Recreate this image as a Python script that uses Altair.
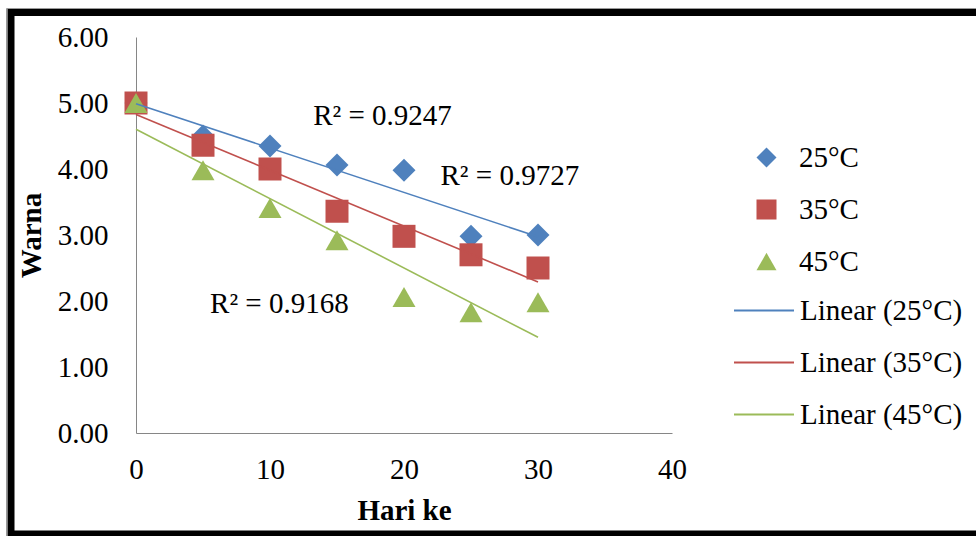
import altair as alt
import pandas as pd

# ---- data ----
days = [0, 5, 10, 15, 20, 25, 30]
series_names = ["25°C", "35°C", "45°C"]
warna_25 = [5.00, 4.50, 4.35, 4.06, 3.98, 2.98, 3.00]
warna_35 = [5.00, 4.36, 4.00, 3.36, 2.98, 2.70, 2.50]
warna_45 = [5.00, 3.98, 3.41, 2.92, 2.06, 1.83, 1.98]
line_names = ["Linear (25°C)", "Linear (35°C)", "Linear (45°C)"]

r2_text = ["R² = 0.9247", "R² = 0.9727", "R² = 0.9168"]
r2_day = [18.4, 27.9, 10.7]
r2_warna = [4.80, 3.89, 1.95]

x_ticks = [0, 10, 20, 30, 40]
y_ticks = [0, 1, 2, 3, 4, 5, 6]

colors = ["#4F81BD", "#C0504D", "#9BBB59"]
shapes = ["diamond", "square", "triangle-up"]
FONT = "Liberation Serif"

rows = []
for name, vals in zip(series_names, [warna_25, warna_35, warna_45]):
    for d, v in zip(days, vals):
        rows.append({"day": d, "warna": v, "series": name})
df = pd.DataFrame(rows)
df_r2 = pd.DataFrame({"text": r2_text, "day": r2_day, "warna": r2_warna})
df_frame = pd.DataFrame({"k": [0]})

x_scale = alt.Scale(domain=[0, 40], nice=False)
y_scale = alt.Scale(domain=[0, 6], nice=False)

x_enc = alt.X(
    "day:Q", scale=x_scale,
    axis=alt.Axis(
        values=x_ticks, title="Hari ke", grid=False, ticks=False, tickSize=0,
        domainColor="#868686", domainWidth=1, labelFlush=False,
        labelFont=FONT, labelFontSize=29, labelColor="black", labelPadding=22,
        titleFont=FONT, titleFontSize=29, titleFontWeight="bold", titleColor="black",
        titleX=268, titleY=86, titleBaseline="alphabetic", titleAlign="center",
    ),
)
y_enc = alt.Y(
    "warna:Q", scale=y_scale,
    axis=alt.Axis(
        values=y_ticks, format=".2f", title="Warna", grid=False, ticks=False, tickSize=0,
        domainColor="#868686", domainWidth=1, labelFlush=False,
        labelFont=FONT, labelFontSize=29, labelColor="black", labelPadding=28,
        titleFont=FONT, titleFontSize=29, titleFontWeight="bold", titleColor="black",
        titleX=-96, titleY=198, titleAngle=270, titleBaseline="alphabetic", titleAlign="center",
    ),
)

pt_legend = alt.Legend(
    title=None, orient="none", legendX=616, legendY=106, padding=0,
    symbolSize=400, labelFont=FONT, labelFontSize=29, labelColor="black",
    labelOffset=18, rowPadding=22, clipHeight=29, symbolStrokeWidth=0, labelLimit=0,
)

points = alt.Chart(df).mark_point(filled=True, size=529, opacity=1).encode(
    x=x_enc,
    y=y_enc,
    color=alt.Color("series:N", scale=alt.Scale(domain=series_names, range=colors), legend=pt_legend),
    shape=alt.Shape("series:N", scale=alt.Scale(domain=series_names, range=shapes), legend=pt_legend),
)

lines = (
    alt.Chart(df)
    .transform_regression("day", "warna", groupby=["series"], extent=[0, 30])
    .transform_calculate(label="'Linear (' + datum.series + ')'")
    .mark_line(strokeWidth=1.6)
    .encode(
        x=alt.X("day:Q", scale=x_scale),
        y=alt.Y("warna:Q", scale=y_scale),
        stroke=alt.Stroke(
            "label:N", scale=alt.Scale(domain=line_names, range=colors),
            legend=alt.Legend(
                title=None, orient="none", legendX=597, legendY=259, padding=0,
                symbolType="stroke", symbolSize=3600, symbolStrokeWidth=2,
                labelFont=FONT, labelFontSize=29, labelColor="black",
                labelOffset=5, rowPadding=22, clipHeight=29, labelLimit=0,
            ),
        ),
    )
)

texts = alt.Chart(df_r2).mark_text(
    font=FONT, fontSize=29, color="black", align="center", baseline="middle"
).encode(
    x=alt.X("day:Q", scale=x_scale),
    y=alt.Y("warna:Q", scale=y_scale),
    text="text:N",
)

frame_gray = alt.Chart(df_frame).mark_rect(
    fillOpacity=0, stroke="#9a9a9a", strokeWidth=1
).encode(
    x=alt.value(-129.5), x2=alt.value(870), y=alt.value(-28.5), y2=alt.value(510)
)

frame = alt.Chart(df_frame).mark_rect(
    fillOpacity=0, stroke="black", strokeWidth=7
).encode(
    x=alt.value(-125), x2=alt.value(860), y=alt.value(-24.5), y2=alt.value(497)
)

chart = (
    alt.layer(points, lines, texts, frame_gray, frame)
    .properties(
        width=536, height=396,
        autosize=alt.AutoSizeParams(type="none"),
        padding={"left": 136, "top": 37, "right": 304, "bottom": 103},
        background="white",
    )
    .configure_view(stroke=None)
)

chart.save("out.html", embed_options={"renderer": "svg", "actions": False})
